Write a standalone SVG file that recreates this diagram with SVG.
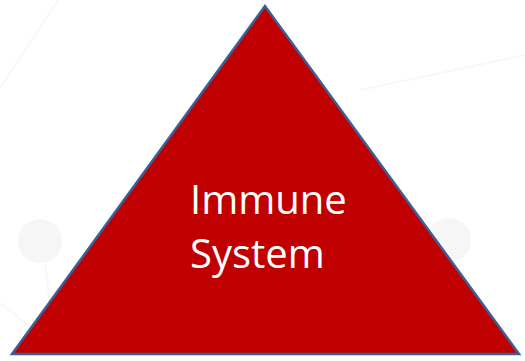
<svg xmlns="http://www.w3.org/2000/svg" width="525" height="361" viewBox="0 0 525 361">
<style>
.bg{fill:#f6f6f6}
.bgl{stroke:#f8f8f8;stroke-width:2;fill:none}
.lbl{font-family:"Open Sans","Noto Sans",sans-serif;font-size:40px;fill:#ffffff}
</style>
<rect width="525" height="361" fill="#ffffff"/>
<g id="background">
<path class="bgl" d="M0 88 L58 0"/>
<path class="bgl" d="M360 90 L525 55"/>
<path class="bgl" d="M0 303 L60 350"/>
<path class="bgl" d="M45 262 L50 305"/>
<circle class="bg" cx="40" cy="241" r="22"/>
<circle class="bg" cx="449" cy="240" r="22"/>
</g>
<g id="immune-system">
<polygon points="265,6 12,354 519,354" fill="#c00000" stroke="#3b5f97" stroke-width="2.5" stroke-linejoin="miter"/>
<text class="lbl" x="190" y="214">Immune</text>
<text class="lbl" x="190" y="268">System</text>
</g>
<g id="connectors"/>
</svg>
